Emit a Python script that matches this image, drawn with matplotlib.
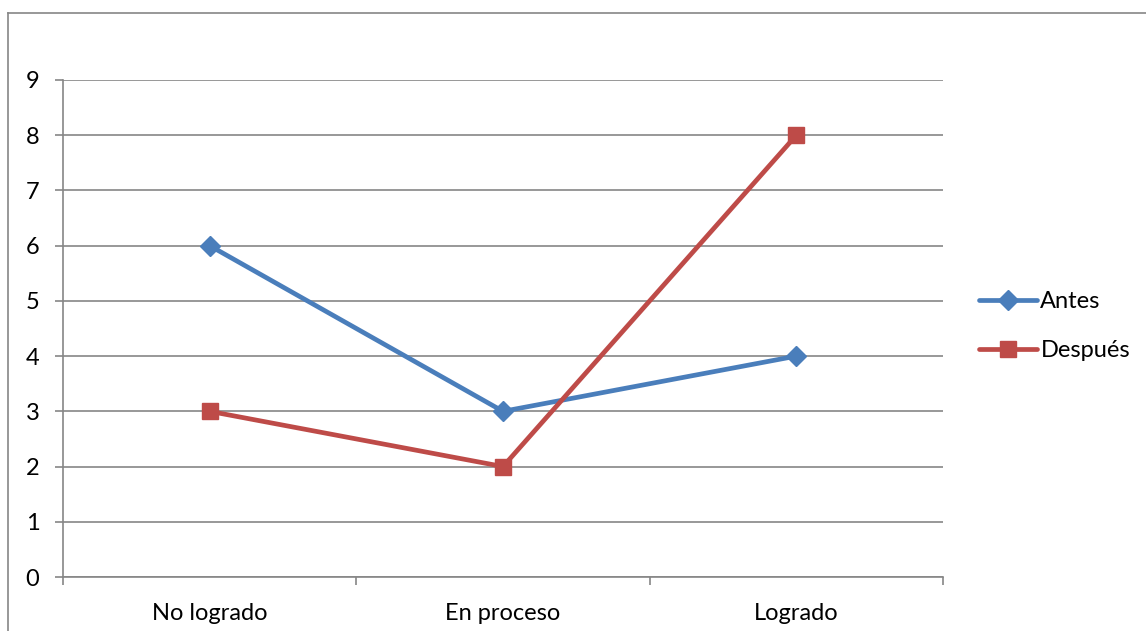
import matplotlib
matplotlib.use("Agg")
import matplotlib.pyplot as plt
from matplotlib.lines import Line2D

categories = ["No logrado", "En proceso", "Logrado"]
antes = [6, 3, 4]
despues = [3, 2, 8]
yticks = list(range(0, 10))

plt.rcParams["font.family"] = ["Lato", "DejaVu Sans"]

W, H = 1146, 631
fig = plt.figure(figsize=(W / 100, H / 100), dpi=100)
ax = fig.add_axes([63 / W, 1 - 577 / H, (943 - 63) / W, (577 - 80) / H])

x = [i + 0.5 for i in range(len(categories))]
blue = "#4A7EBB"
red = "#BE4B48"
ax.plot(x, antes, color=blue, lw=3.4, marker="D", ms=10, label="Antes", zorder=3,
        solid_capstyle="round")
ax.plot(x, despues, color=red, lw=3.4, marker="s", ms=12, label="Después", zorder=3,
        solid_capstyle="round")

ax.set_xlim(0, len(categories))
ax.set_ylim(0, 9)
ax.set_yticks(yticks)
ax.set_xticks(range(len(categories) + 1))
ax.set_xticklabels([])
ax.set_xticks(x, minor=True)
ax.set_xticklabels(categories, minor=True)
ax.tick_params(axis="x", which="minor", length=0, pad=19, labelsize=17)
ax.tick_params(axis="x", which="major", length=6, color="#868686", width=1.2)
ax.tick_params(axis="y", length=6, color="#868686", width=1.2, labelsize=17, pad=11)

ax.grid(axis="y", color="#868686", lw=1.2)
for s in ["top", "right"]:
    ax.spines[s].set_visible(False)
for s in ["left", "bottom"]:
    ax.spines[s].set_color("#868686")
    ax.spines[s].set_linewidth(1.2)

leg = ax.legend(loc="center left", bbox_to_anchor=(979 / W, 1 - 326 / H),
                bbox_transform=fig.transFigure, frameon=False, fontsize=17,
                handlelength=2.45, handletextpad=0.15, labelspacing=1.2,
                borderaxespad=0, borderpad=0)

# chart frame (left and top edges)
fig.add_artist(Line2D([8 / W, 8 / W], [0, 1 - 13 / H], transform=fig.transFigure,
                      color="#868686", lw=1.2))
fig.add_artist(Line2D([8 / W, 1], [1 - 13 / H, 1 - 13 / H], transform=fig.transFigure,
                      color="#868686", lw=1.2))

fig.savefig("out.png", dpi=100)
